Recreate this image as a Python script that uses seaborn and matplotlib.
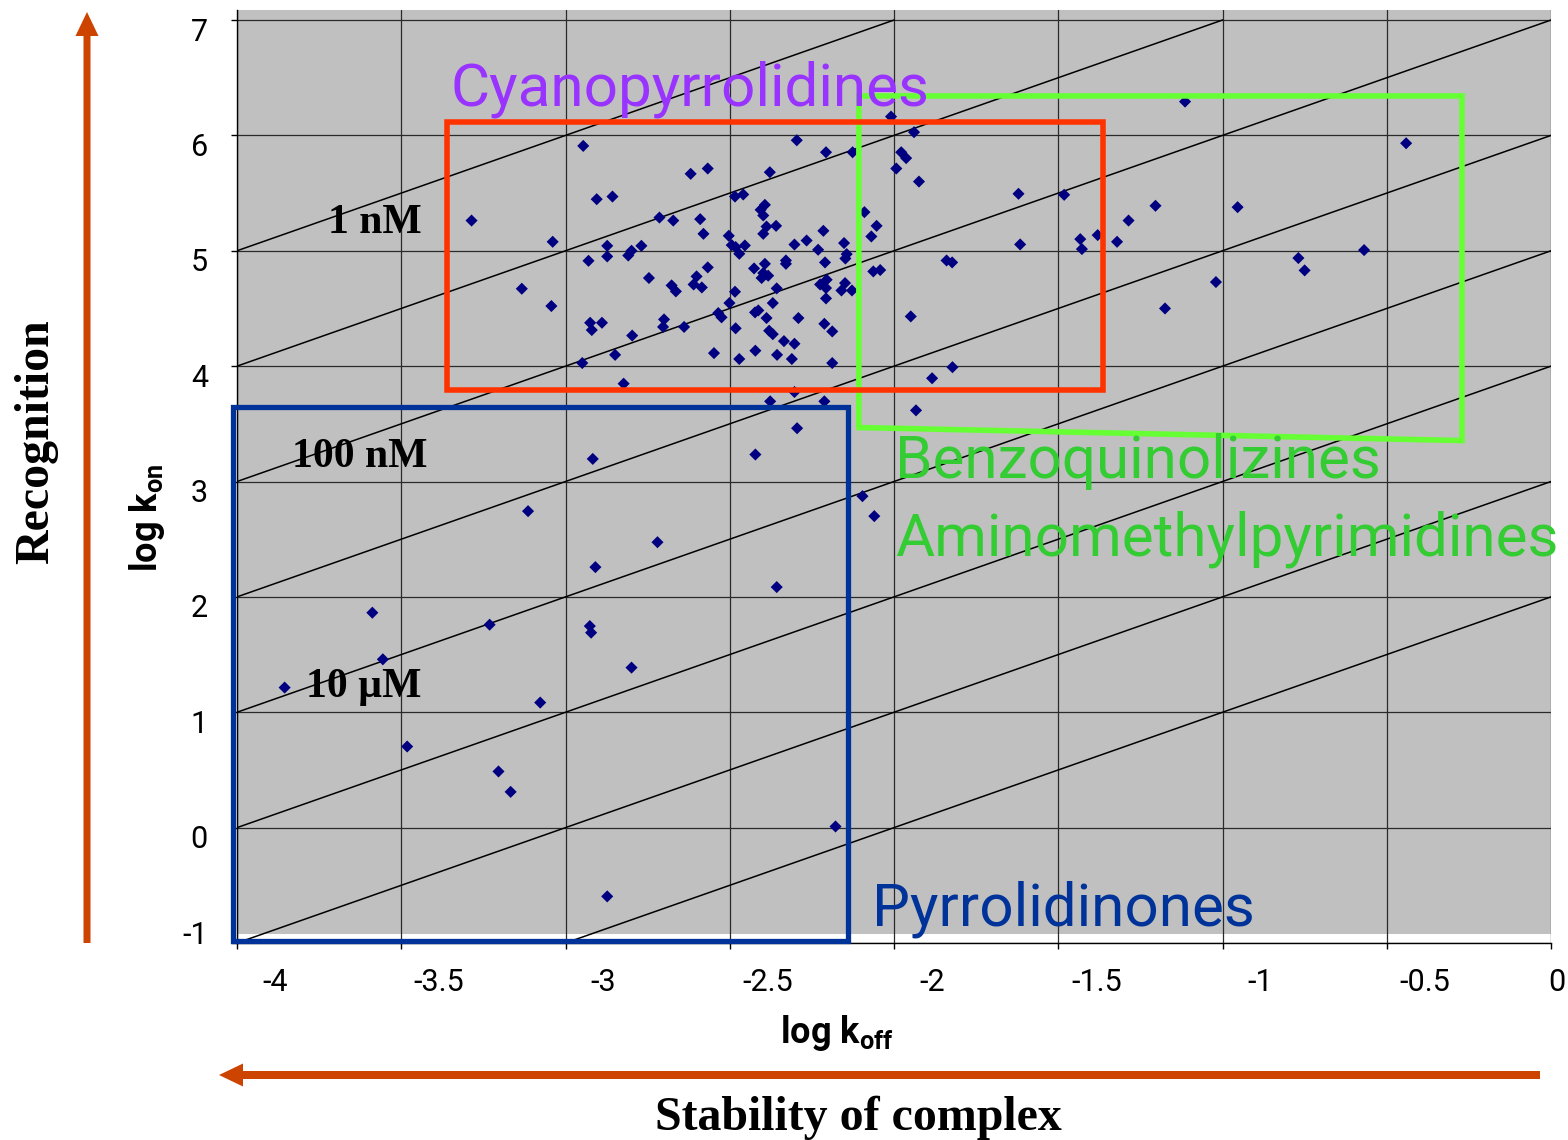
import matplotlib
matplotlib.use("Agg")
import matplotlib.pyplot as plt
from matplotlib import font_manager
from matplotlib.patches import Rectangle, Polygon, FancyArrow
from matplotlib.transforms import ScaledTranslation
import numpy as np
import pandas as pd
import seaborn as sns

# ---------------- data (log koff, log kon) ----------------
log_koff = [
    -2.946, -2.619, -2.567, -2.905, -2.857, -3.286, -2.714, -2.672, -2.590, -2.580,
    -3.039, -2.873, -2.769, -2.799, -2.809, -2.873, -2.930, -2.567, -2.746, -2.601,
    -2.610, -2.585, -2.677, -2.664, -3.133, -3.043,
    -2.296, -2.207, -2.126, -1.939, -1.978, -1.963, -1.993, -1.924, -2.378, -2.484,
    -2.459, -2.393, -2.406, -2.398, -2.388, -2.359, -2.398, -2.215, -2.090, -2.053,
    -2.069, -2.503, -2.494, -2.482, -2.454, -2.471, -2.303, -2.266, -2.231, -2.152,
    -2.144, -2.148, -2.210, -2.426, -2.393, -2.329, -2.329, -2.398, -2.383, -2.403,
    -2.063, -2.042, -1.840, -1.823, -2.484, -2.357, -2.205, -2.225, -2.207, -2.149,
    -2.160, -2.128, -2.207, -2.501, -2.369, -2.535, -2.525, -2.423, -2.413, -2.388,
    -2.291, -1.949,
    -2.925, -2.889, -2.920, -2.700, -2.703, -2.797, -2.639, -2.849, -2.949, -2.823,
    -2.482, -2.548, -2.471, -2.380, -2.369, -2.335, -2.303, -2.422, -2.356, -2.311,
    -2.212, -2.188, -2.188, -2.303, -2.377, -2.212, -2.295, -2.422, -1.884, -1.822,
    -1.933,
    -2.009, -1.114, -0.441, -1.621, -1.482, -1.204, -0.954, -1.286, -1.616, -1.433,
    -1.428, -1.380, -1.321, -0.769, -0.750, -0.569, -1.020, -1.175,
    -2.917, -3.114, -2.720, -2.909, -2.357, -2.096, -2.060, -3.588, -3.231, -2.926,
    -2.922, -3.556, -3.855, -2.799, -3.077, -3.482, -3.204, -3.167, -2.178, -2.873,
]
log_kon = [
    5.909, 5.667, 5.713, 5.447, 5.470, 5.262, 5.288, 5.262, 5.274, 5.147,
    5.078, 5.043, 5.043, 5.000, 4.959, 4.951, 4.913, 4.856, 4.764, 4.778,
    4.708, 4.682, 4.700, 4.648, 4.671, 4.521,
    5.958, 5.854, 5.854, 6.028, 5.854, 5.803, 5.713, 5.600, 5.681, 5.470,
    5.488, 5.398, 5.355, 5.306, 5.210, 5.216, 5.147, 5.173, 5.335, 5.216,
    5.124, 5.130, 5.049, 5.032, 5.046, 4.974, 5.054, 5.089, 5.009, 5.067,
    4.971, 4.933, 4.899, 4.847, 4.887, 4.916, 4.887, 4.807, 4.784, 4.764,
    4.821, 4.833, 4.916, 4.899, 4.645, 4.674, 4.749, 4.708, 4.677, 4.720,
    4.656, 4.656, 4.587, 4.547, 4.547, 4.460, 4.423, 4.466, 4.483, 4.417,
    4.417, 4.431,
    4.376, 4.376, 4.313, 4.405, 4.340, 4.265, 4.340, 4.098, 4.027, 3.848,
    4.328, 4.113, 4.062, 4.307, 4.277, 4.217, 4.194, 4.134, 4.098, 4.062,
    4.367, 4.301, 4.027, 3.776, 3.695, 3.695, 3.462, 3.234, 3.895, 3.991,
    3.617,
    6.163, 6.293, 5.932, 5.494, 5.485, 5.390, 5.378, 5.262, 5.055, 5.101,
    5.015, 5.136, 5.078, 4.937, 4.830, 5.006, 4.729, 4.500,
    3.196, 2.743, 2.474, 2.258, 2.085, 2.873, 2.700, 1.863, 1.759, 1.747,
    1.690, 1.459, 1.214, 1.387, 1.084, 0.703, 0.487, 0.310, 0.010, -0.596,
]

# iso-affinity lines: log kon = log koff + c   (c = -log KD)
iso_c = [2, 3, 4, 5, 6, 7, 8, 9]
iso_labels = ["1 nM", "100 nM", "10 \u00b5M"]

x_ticks = [-4, -3.5, -3, -2.5, -2, -1.5, -1, -0.5, 0]
x_tick_labels = ["-4", "-3.5", "-3", "-2.5", "-2", "-1.5", "-1", "-0.5", "0"]
y_ticks = [-1, 0, 1, 2, 3, 4, 5, 6, 7]
y_tick_labels = ["-1", "0", "1", "2", "3", "4", "5", "6", "7"]

# class regions (log koff range, log kon range)
red_box = [-3.362, 3.790, -1.365, 6.117]      # Cyanopyrrolidines
blue_box = [-4.013, -0.983, -2.140, 3.644]    # Pyrrolidinones
green_poly = [(-2.107, 6.342), (-0.271, 6.342), (-0.271, 3.355), (-2.107, 3.468)]

# ---------------- fonts ----------------
avail = {f.name for f in font_manager.fontManager.ttflist}
SANS = "Roboto" if "Roboto" in avail else "DejaVu Sans"
SERIF = "Liberation Serif" if "Liberation Serif" in avail else "DejaVu Serif"
plt.rcParams["font.family"] = [SANS, "DejaVu Sans"]
plt.rcParams["mathtext.fontset"] = "custom"
plt.rcParams["mathtext.rm"] = SANS
plt.rcParams["mathtext.bf"] = SANS + ":bold"

W, H = 1568, 1140
fig = plt.figure(figsize=(W / 100, H / 100), dpi=100)
fig.patch.set_facecolor("white")


def fx(px):
    return px / W


def fy(py):
    return 1 - py / H


ax = fig.add_axes([fx(237), fy(943), (1551 - 237) / W, (943 - 10) / H])
ax.set_facecolor("#C0C0C0")
ax.set_xlim(-4, 0)
ax.set_ylim(-1, 7.087)
ax.set_axisbelow(True)
ax.grid(True, color="#2a2a2a", lw=0.9)
ax.axhspan(-1, -0.92, color="white", zorder=0.3, lw=0)

# iso-affinity lines, limited to the gridded region [-4,0] x [-1,7]
for c in iso_c:
    x0 = max(-4.0, -1.0 - c)
    x1 = min(0.0, 7.0 - c)
    xs = np.array([x0, x1])
    ax.plot(xs, xs + c, color="black", lw=1.1, zorder=2)

df = pd.DataFrame({"log_koff": log_koff, "log_kon": log_kon})
sns.scatterplot(data=df, x="log_koff", y="log_kon", marker="D", s=38,
                color="#000080", edgecolor="none", linewidth=0, ax=ax,
                zorder=3, legend=False)

# region boxes
green = Polygon(green_poly, closed=True, fill=False, edgecolor="#66FF33",
                lw=4.0, zorder=5, clip_on=False, joinstyle="miter")
ax.add_patch(green)
rx0, ry0, rx1, ry1 = red_box
ax.add_patch(Rectangle((rx0, ry0), rx1 - rx0, ry1 - ry0, fill=False,
                       edgecolor="#FF3300", lw=4.0, zorder=6, clip_on=False))
bx0, by0, bx1, by1 = blue_box
ax.add_patch(Rectangle((bx0, by0), bx1 - bx0, by1 - by0, fill=False,
                       edgecolor="#003399", lw=3.8, zorder=6, clip_on=False))

# axes styling
for s in ["top", "right"]:
    ax.spines[s].set_visible(False)
for s in ["left", "bottom"]:
    ax.spines[s].set_color("black")
    ax.spines[s].set_linewidth(1.0)
ax.set_xticks(x_ticks)
ax.set_xticklabels(x_tick_labels)
ax.set_yticks(y_ticks)
ax.set_yticklabels(y_tick_labels)
ax.tick_params(axis="both", direction="out", length=4, width=1, color="black",
               labelsize=22, pad=14)
ax.tick_params(axis="y", pad=17)
ax.set_xlabel("")
ax.set_ylabel("")

# tick label offsets as in the reference
for lab, t in zip(ax.get_xticklabels(), x_ticks):
    dx = 6 if t == 0 else 38
    lab.set_transform(lab.get_transform() + ScaledTranslation(dx / 100, 0, fig.dpi_scale_trans))
for lab, t in zip(ax.get_yticklabels(), y_ticks):
    dy = 11 if t == -1 else -9
    lab.set_transform(lab.get_transform() + ScaledTranslation(0, dy / 100, fig.dpi_scale_trans))

# group names
GS = 43.3
fig.text(fx(450), fy(106), "Cyanopyrrolidines", color="#9933FF", fontsize=GS,
         family=SANS, ha="left", va="baseline")
fig.text(fx(895), fy(478), "Benzoquinolizines", color="#33CC33", fontsize=GS,
         family=SANS, ha="left", va="baseline")
fig.text(fx(895), fy(555), "Aminomethylpyrimidines", color="#33CC33", fontsize=GS,
         family=SANS, ha="left", va="baseline")
fig.text(fx(872), fy(925), "Pyrrolidinones", color="#003399", fontsize=GS,
         family=SANS, ha="left", va="baseline")

# iso-affinity labels (below the iso lines, as in the reference)
for (lx, ly), txt in zip([(328, 233), (292, 467), (306, 697)], iso_labels):
    ax.text(fx(lx), fy(ly), txt, color="black", fontsize=30, family=SERIF,
            fontweight="bold", ha="left", va="baseline", zorder=1.5,
            transform=fig.transFigure)

# axis labels
fig.text(fx(780), fy(1043), r"log k$_{\mathbf{off}}$", fontsize=26, fontweight="bold",
         family=SANS, ha="left", va="baseline")
fig.text(fx(147), fy(518), r"log k$_{\mathbf{on}}$", fontsize=26, fontweight="bold",
         family=SANS, ha="center", va="center", rotation=90)
fig.text(fx(36), fy(442), "Recognition", fontsize=34.5, fontweight="bold",
         family=SERIF, ha="center", va="center", rotation=90)
fig.text(fx(655), fy(1130), "Stability of complex", fontsize=34.5, fontweight="bold",
         family=SERIF, ha="left", va="baseline")

# arrows (in inches: 100 px per inch)
arrow_col = "#CC4400"
fig.add_artist(FancyArrow(0.87, (H - 943) / 100, 0, (943 - 12) / 100, width=0.07,
                          head_width=0.23, head_length=0.24, length_includes_head=True,
                          color=arrow_col, lw=0, transform=fig.dpi_scale_trans))
fig.add_artist(FancyArrow(15.40, (H - 1075) / 100, -(1540 - 219) / 100, 0, width=0.08,
                          head_width=0.23, head_length=0.24, length_includes_head=True,
                          color=arrow_col, lw=0, transform=fig.dpi_scale_trans))

fig.savefig("out.png", dpi=100)
